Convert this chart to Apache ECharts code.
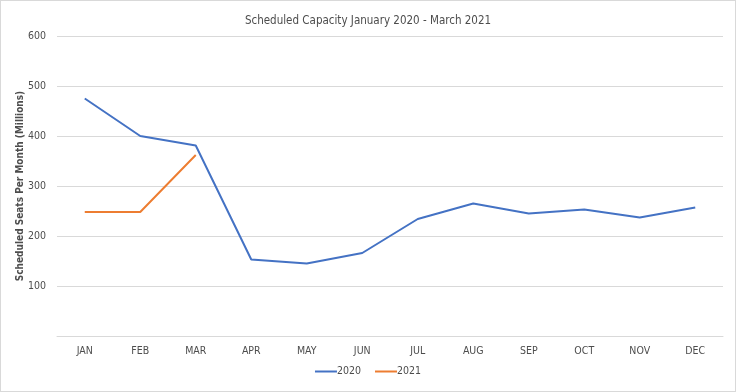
<!DOCTYPE html>
<html><head><meta charset="utf-8">
<script src="https://cdn.jsdelivr.net/npm/echarts@6/dist/echarts.min.js"></script>
<style>html,body{margin:0;padding:0;background:#fff}#c{width:734px;height:390px;border:1px solid #d9d9d9}</style>
</head><body><div id="c"></div>
<script>
const months = ['JAN','FEB','MAR','APR','MAY','JUN','JUL','AUG','SEP','OCT','NOV','DEC'];
const seats2020 = [475, 400, 381, 153, 145, 166, 234, 265, 245, 253, 237, 257];
const seats2021 = [248, 248, 362];
const yTicks = {min: 0, max: 600, interval: 100};
const FONT = '"DejaVu Sans Condensed", "Liberation Sans Narrow", "Roboto", sans-serif';
const chart = echarts.init(document.getElementById('c'));
chart.setOption({
  animation: false,
  title: {text: 'Scheduled Capacity January 2020 - March 2021', left: 'center', top: 9,
    textStyle: {fontFamily: FONT, fontSize: 11.5, fontWeight: 'normal', color: '#4d4d4d'}},
  grid: {left: 56, right: 12, top: 35, bottom: 55, containLabel: false, outerBoundsMode: 'none'},
  legend: {bottom: 9, left: 'center', itemWidth: 22, itemHeight: 2, itemGap: 14,
    icon: 'rect', textStyle: {fontFamily: FONT, fontSize: 10.5, color: '#4d4d4d', padding: [0,0,0,-5]},
    data: ['2020','2021']},
  xAxis: {type: 'category', data: months, boundaryGap: true,
    axisLine: {show: true, lineStyle: {color: '#d9d9d9'}}, axisTick: {show: false},
    axisLabel: {fontFamily: FONT, fontSize: 10.5, color: '#4d4d4d', margin: 10}},
  yAxis: {type: 'value', min: yTicks.min, max: yTicks.max, interval: yTicks.interval,
    name: 'Scheduled Seats Per Month (Millions)', nameLocation: 'middle', nameGap: 32, nameRotate: 90,
    nameMoveOverlap: false,
    nameTextStyle: {fontFamily: FONT, fontSize: 10, fontWeight: 'bold', color: '#4d4d4d'},
    axisLine: {show: false}, axisTick: {show: false},
    splitLine: {lineStyle: {color: '#d9d9d9'}},
    axisLabel: {fontFamily: FONT, fontSize: 10.5, color: '#4d4d4d', margin: 11,
      formatter: v => v === 0 ? '' : String(v)}},
  series: [
    {name: '2020', type: 'line', data: seats2020, symbol: 'none', lineStyle: {width: 2, color: '#4472C4'}, itemStyle: {color: '#4472C4'}},
    {name: '2021', type: 'line', data: seats2021, symbol: 'none', lineStyle: {width: 2, color: '#ED7D31'}, itemStyle: {color: '#ED7D31'}}
  ]
});
</script></body></html>
